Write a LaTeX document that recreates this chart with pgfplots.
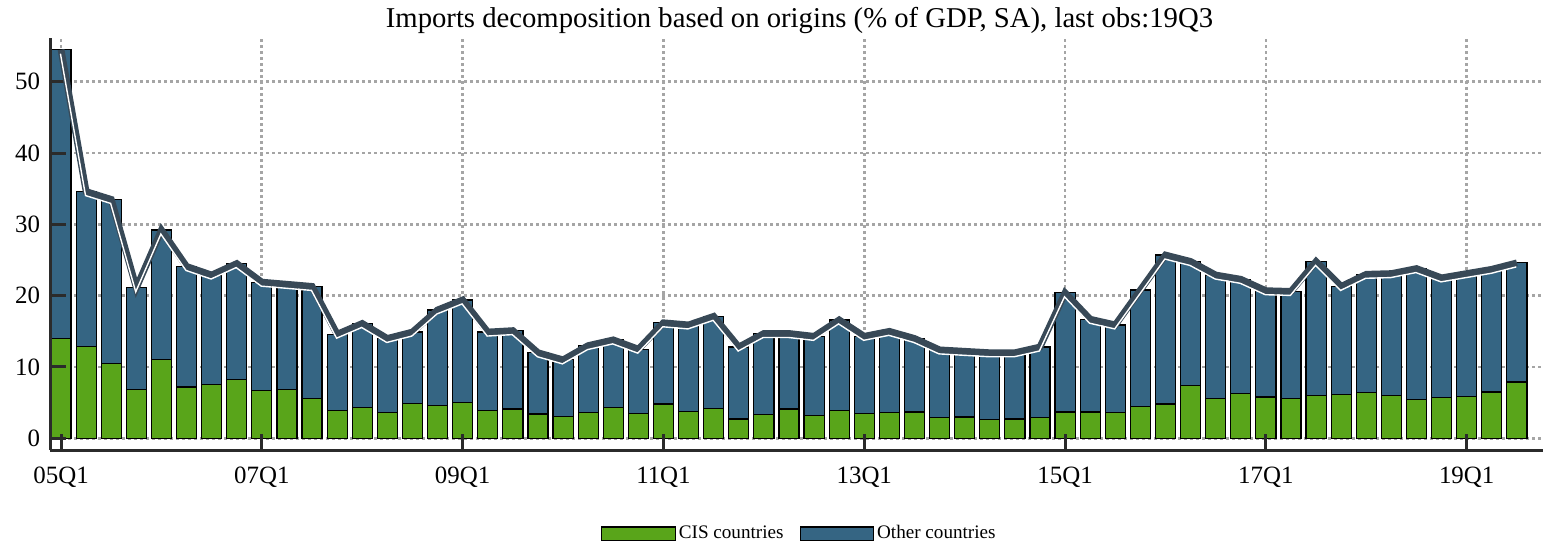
\documentclass[border=0pt]{standalone}
\usepackage{fontspec}
\setmainfont{Liberation Serif}
\usepackage{pgfplots}
\usepackage{pgfplotstable}
\pgfplotsset{compat=1.18}
\definecolor{cisgreen}{RGB}{89,165,26}
\definecolor{othblue}{RGB}{53,101,131}
\definecolor{linedark}{RGB}{56,73,87}
\definecolor{gridgray}{RGB}{165,165,165}
\definecolor{axisdark}{RGB}{43,43,43}

\pgfplotstableread{
i cis oth tot
0 14.0 40.5 54.5
1 12.9 21.7 34.6
2 10.5 23.0 33.5
3 6.9 14.2 21.1
4 11.0 18.2 29.2
5 7.2 16.9 24.1
6 7.6 15.3 22.9
7 8.2 16.3 24.5
8 6.7 15.2 21.9
9 6.9 14.7 21.6
10 5.6 15.7 21.3
11 3.9 10.7 14.6
12 4.3 11.8 16.1
13 3.6 10.4 14.0
14 4.9 10.0 14.9
15 4.6 13.4 18.0
16 5.0 14.4 19.4
17 3.9 11.0 14.9
18 4.1 11.0 15.1
19 3.4 8.6 12.0
20 3.1 7.9 11.0
21 3.6 9.4 13.0
22 4.3 9.5 13.8
23 3.5 9.0 12.5
24 4.8 11.4 16.2
25 3.8 12.1 15.9
26 4.2 12.9 17.1
27 2.7 10.1 12.8
28 3.3 11.4 14.7
29 4.1 10.6 14.7
30 3.2 11.1 14.3
31 3.9 12.7 16.6
32 3.5 10.8 14.3
33 3.6 11.4 15.0
34 3.7 10.3 14.0
35 2.9 9.5 12.4
36 3.0 9.2 12.2
37 2.6 9.4 12.0
38 2.7 9.3 12.0
39 2.9 9.9 12.8
40 3.7 16.7 20.4
41 3.7 13.0 16.7
42 3.6 12.3 15.9
43 4.5 16.3 20.8
44 4.8 20.9 25.7
45 7.4 17.4 24.8
46 5.6 17.3 22.9
47 6.3 16.0 22.3
48 5.8 14.9 20.7
49 5.6 15.0 20.6
50 6.0 18.8 24.8
51 6.1 15.2 21.3
52 6.4 16.6 23.0
53 6.0 17.1 23.1
54 5.4 18.4 23.8
55 5.7 16.8 22.5
56 5.9 17.2 23.1
57 6.5 17.2 23.7
58 7.9 16.7 24.6
}\data

\pgfplotsset{
  base/.style={
    at={(25bp,48.5bp)}, anchor=south west,
    scale only axis, width=746.5bp, height=206bp,
    xmin=-0.44, xmax=59.04, ymin=-1.64, ymax=56.14,
    xtick={0,8,16,24,32,40,48,56},
    xticklabels={05Q1,07Q1,09Q1,11Q1,13Q1,15Q1,17Q1,19Q1},
    ytick={0,10,20,30,40,50},
    axis x line*=bottom, axis y line*=left,
    tick align=inside,
    major tick length=8bp,
    tick label style={font=\fontsize{12.5}{15}\selectfont},
    /pgf/number format/assume math mode=true,
    yticklabel style={xshift=-1.5bp},
    xticklabel style={yshift=-4.8bp},
  },
  mybox/.style={legend image code/.code={\draw[##1,line width=0.6bp] (0bp,-3.3bp) rectangle (36.7bp,3.3bp);}},
}

\begin{document}
\begin{tikzpicture}
\path[use as bounding box] (0,0) rectangle (771.5bp,273.5bp);
\begin{axis}[base,
  ybar stacked, bar width=0.8,
  grid=major,
  major grid style={draw=gridgray, line width=1.4bp, dash pattern=on 1.4bp off 1.6bp},
  axis line style={draw=none},
  major tick length=0pt,
  xticklabels={}, yticklabels={},
  legend columns=2,
  legend style={at={(0.5023,-0.2027)}, anchor=center, draw=none, fill=none,
    font=\fontsize{9.6}{11.5}\selectfont,
    /tikz/every even column/.style={column sep=6.5bp},
    nodes={inner sep=1.5bp}},
]
\addplot[fill=cisgreen, draw=black, line width=0.6bp, mybox] table[x=i, y=cis] {\data};
\addlegendentry{CIS countries}
\addplot[fill=othblue, draw=black, line width=0.6bp, mybox] table[x=i, y=oth] {\data};
\addlegendentry{Other countries}
\end{axis}
\begin{axis}[base,
  axis line style={draw=axisdark, line width=1.5bp},
  every tick/.style={draw=axisdark, line width=1.5bp},
]
\addplot[draw=linedark, line width=3.4bp, sharp plot, mark=none, line join=miter] table[x=i, y=tot] {\data};
\addplot[draw=white, line width=0.7bp, yshift=-2bp, xshift=-0.3bp, sharp plot, mark=none] table[x=i, y=tot] {\data};
\end{axis}
\node[anchor=base, font=\fontsize{14.4}{17}\selectfont] at (399.75bp,259.6bp)
  {Imports decomposition based on origins (\% of GDP, SA), last obs:19Q3};
\end{tikzpicture}
\end{document}
